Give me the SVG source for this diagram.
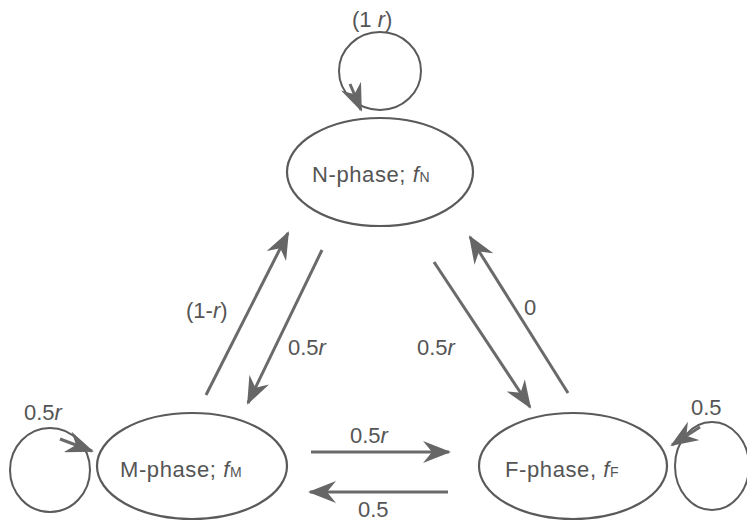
<svg xmlns="http://www.w3.org/2000/svg" width="747" height="522" viewBox="0 0 747 522">
<style>
.node{fill:none;stroke:#5a5a5a;stroke-width:2.2}
.loop{fill:none;stroke:#5a5a5a;stroke-width:2}
.edge{fill:none;stroke:#6a6a6a;stroke-width:3;marker-end:url(#ah)}
.lbl{font-family:"Liberation Sans",Arial,sans-serif;font-size:22px;fill:#555;letter-spacing:0.6px}
.el{font-family:"Liberation Sans",Arial,sans-serif;font-size:22px;fill:#555}
.it{font-style:italic}
.sub{font-size:14px}
</style>
<defs>
<marker id="ah" viewBox="0 0 28 22" refX="26" refY="11" markerWidth="28" markerHeight="22" markerUnits="userSpaceOnUse" orient="auto">
<path d="M0,0 L28,11 L0,22 L9,11 z" fill="#666"/>
</marker>
</defs>
<g id="node-N">
<ellipse class="node" cx="380" cy="172" rx="93" ry="54"/>
<text class="lbl" x="312" y="182">N-phase; <tspan class="it">f</tspan><tspan class="sub">N</tspan></text>
</g>
<g id="node-M">
<ellipse class="node" cx="192" cy="466" rx="95" ry="53"/>
<text class="lbl" x="120" y="477">M-phase; <tspan class="it">f</tspan><tspan class="sub">M</tspan></text>
</g>
<g id="node-F">
<ellipse class="node" cx="573" cy="466" rx="94" ry="53"/>
<text class="lbl" x="505" y="477">F-phase, <tspan class="it">f</tspan><tspan class="sub">F</tspan></text>
</g>
<g id="connectors">
<ellipse class="loop" cx="380" cy="71" rx="41" ry="39"/>
<path class="edge" d="M350,84 L361,110"/>
<ellipse class="loop" cx="50" cy="470" rx="40" ry="42"/>
<path class="edge" d="M60,439 L92,451"/>
<ellipse class="loop" cx="712" cy="466" rx="37" ry="44"/>
<path class="edge" d="M700,427 L672,445"/>
<path class="edge" d="M206,395 L288,233"/>
<path class="edge" d="M322,250 L248,403"/>
<path class="edge" d="M434,262 L530,407"/>
<path class="edge" d="M568,393 L470,237"/>
<path class="edge" d="M311,452 L449,452"/>
<path class="edge" d="M448,492 L310,492"/>
<text class="el" x="352" y="27">(1 <tspan class="it">r</tspan>)</text>
<text class="el" x="186" y="318">(1-<tspan class="it">r</tspan>)</text>
<text class="el" x="288" y="355">0.5<tspan class="it">r</tspan></text>
<text class="el" x="417" y="355">0.5<tspan class="it">r</tspan></text>
<text class="el" x="524" y="315">0</text>
<text class="el" x="24" y="420">0.5<tspan class="it">r</tspan></text>
<text class="el" x="350" y="443">0.5<tspan class="it">r</tspan></text>
<text class="el" x="358" y="517">0.5</text>
<text class="el" x="691" y="415">0.5</text>
</g>
</svg>
